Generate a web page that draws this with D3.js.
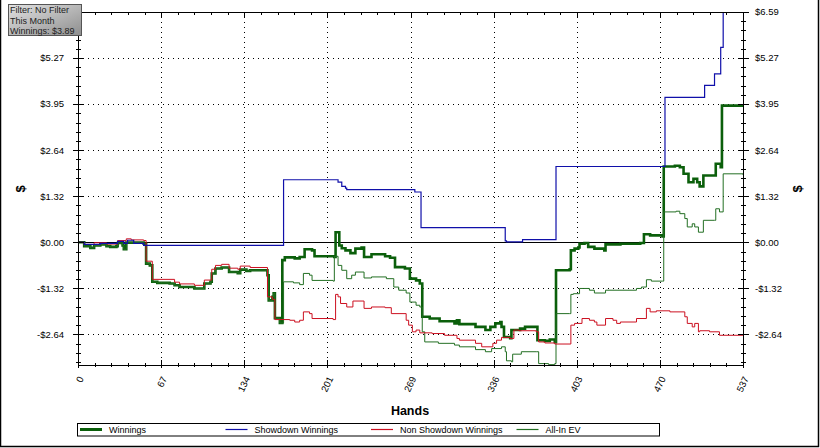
<!DOCTYPE html>
<html><head><meta charset="utf-8">
<script src="https://cdnjs.cloudflare.com/ajax/libs/d3/7.8.5/d3.min.js"></script>
<style>
html,body{margin:0;padding:0;background:#fff;}
svg{display:block;font-family:"Liberation Sans",Arial,sans-serif;}
</style></head><body>
<svg id="chart" width="820" height="448"></svg>
<script>
// ---------- data ----------
const totalHands = 537;
const xTickLabels = ["0","67","134","201","269","336","403","470","537"];
const yTickValues = [-2.636,-1.318,0,1.318,2.636,3.954,5.272,6.59];
const yTickLabels = ["-$2.64","-$1.32","$0.00","$1.32","$2.64","$3.95","$5.27","$6.59"];
const titleLines = ["Filter: No Filter","This Month","Winnings: $3.89"];
const seriesNames = ["Winnings","Showdown Winnings","Non Showdown Winnings","All-In EV"];

const winningsEarly = [[0,0],[5,-0.11],[10,-0.16],[13,-0.09],[18,-0.06],[23,-0.11],[26,-0.13],[31,-0.11],[32,-0.02],[36,-0.09],[37,-0.20],[39,-0.01],[53,-0.04],[55,-0.61],[58,-0.66],[60,-1.13],[64,-1.16],[74,-1.18],[78,-1.23],[82,-1.28],[94,-1.32],[102,-1.18],[107,-1.13],[108,-0.89],[111,-0.75],[116,-0.72],[122,-0.85],[129,-0.88],[131,-0.78],[136,-0.82],[139,-0.80],[153,-0.94],[154,-1.66],[157,-1.56],[158,-1.46],[159,-2.17],[163,-2.31]];

const winningsLate = [[165,-0.51],[167,-0.43],[175,-0.46],[179,-0.42],[183,-0.20],[189,-0.23],[191,-0.40],[207,-0.42],[208,0.29],[210,0.29],[211,-0.09],[213,-0.17],[216,-0.23],[220,-0.31],[224,-0.18],[229,-0.15],[231,-0.42],[237,-0.34],[248,-0.40],[252,-0.44],[256,-0.71],[264,-0.75],[268,-1.04],[273,-1.09],[276,-1.18],[278,-2.13],[284,-2.18],[292,-2.26],[304,-2.32],[306,-2.23],[308,-2.34],[321,-2.42],[329,-2.51],[333,-2.42],[337,-2.32],[341,-2.28],[342,-2.42],[344,-2.71],[349,-2.74],[350,-2.51],[357,-2.47],[361,-2.42],[369,-2.42],[371,-2.80],[377,-2.82],[381,-2.78],[385,-2.85],[386,-0.80],[397,-0.77],[398,-0.23],[401,-0.18],[404,-0.15],[405,-0.04],[409,-0.02],[412,-0.13],[417,-0.18],[425,-0.23],[426,-0.06],[438,-0.04],[454,-0.02],[457,0.23],[462,0.20],[472,0.17],[473,2.17],[482,2.19],[486,2.15],[489,1.96],[493,1.72],[497,1.82],[500,1.72],[502,1.60],[505,1.91],[514,1.91],[515,2.25],[519,2.15],[520,3.91],[535,3.91],[537,3.89]];

const showdown = [[0,0],[5,-0.06],[18,-0.03],[32,0.03],[37,-0.03],[40,0.06],[45,-0.03],[53,-0.09],[164,-0.09],[166,1.79],[209,1.79],[210,1.72],[213,1.60],[216,1.55],[217,1.51],[271,1.51],[272,1.44],[277,0.42],[344,0.42],[345,0.04],[346,0.01],[359,0.08],[386,2.17],[473,2.17],[474,4.15],[505,4.15],[506,4.49],[514,4.82],[519,5.58],[521,6.70],[537,6.70]];

const nonShowdown = [[0,0],[5,-0.06],[13,-0.01],[23,-0.05],[32,0.05],[39,0.10],[43,0.07],[53,0.05],[55,-0.54],[60,-1.06],[78,-1.14],[82,-1.19],[94,-1.23],[102,-1.08],[108,-0.77],[111,-0.66],[116,-0.63],[122,-0.74],[129,-0.77],[131,-0.68],[139,-0.72],[153,-1.56],[157,-1.63],[159,-2.21],[171,-2.23],[175,-2.28],[179,-2.23],[182,-1.99],[187,-2.04],[189,-2.18],[206,-2.21],[208,-1.49],[210,-1.56],[212,-1.75],[217,-1.85],[222,-1.68],[231,-1.89],[237,-1.85],[248,-1.87],[253,-2.04],[265,-2.23],[267,-2.37],[270,-2.56],[273,-2.51],[276,-2.59],[286,-2.61],[296,-2.66],[306,-2.75],[308,-2.80],[321,-2.89],[326,-2.99],[335,-2.89],[338,-2.80],[342,-2.72],[349,-2.75],[352,-2.51],[356,-2.53],[370,-2.56],[372,-2.85],[377,-2.88],[385,-2.91],[398,-2.37],[401,-2.32],[407,-2.18],[413,-2.23],[417,-2.28],[419,-2.37],[426,-2.18],[432,-2.23],[435,-2.32],[438,-2.28],[451,-2.18],[459,-1.89],[462,-1.99],[467,-1.96],[478,-1.99],[490,-2.13],[492,-2.32],[496,-2.42],[498,-2.32],[501,-2.56],[502,-2.53],[510,-2.56],[518,-2.66],[537,-2.66]];

const allInLate = [[166,-1.13],[174,-1.16],[179,-1.21],[182,-0.89],[187,-0.94],[189,-1.09],[206,-1.11],[207,-0.40],[210,-0.66],[213,-0.80],[217,-1.04],[221,-0.94],[224,-0.85],[231,-1.02],[237,-0.99],[249,-1.04],[255,-1.28],[259,-1.37],[265,-1.45],[268,-1.71],[273,-1.80],[276,-1.85],[278,-2.56],[280,-2.85],[291,-2.89],[304,-2.94],[308,-2.99],[321,-3.07],[329,-3.13],[334,-3.04],[342,-2.99],[345,-3.13],[346,-3.39],[350,-3.42],[351,-3.20],[358,-3.13],[370,-3.13],[372,-3.47],[380,-3.50],[385,-3.47],[386,-2.04],[397,-2.04],[398,-1.49],[400,-1.47],[405,-1.32],[413,-1.37],[417,-1.45],[426,-1.37],[451,-1.32],[455,-1.28],[459,-1.07],[463,-1.11],[472,-1.11],[473,0.87],[483,0.89],[486,0.82],[490,0.68],[492,0.44],[496,0.53],[498,0.44],[501,0.29],[505,0.63],[514,0.63],[515,0.96],[518,0.87],[521,1.96],[537,1.93]];

const winnings = winningsEarly.concat(winningsLate);
const allInEV = winningsEarly.concat(allInLate);

// ---------- layout ----------
const svg = d3.select("#chart");
const L = 78, R = 743, T = 12, B = 365;
const x = d3.scaleLinear().domain([0, totalHands]).range([L, R]);
const y = d3.scaleLinear().domain([-3.51, 6.59]).range([B, T]);

// outer frame
svg.append("rect").attr("x",0.5).attr("y",-2).attr("width",818).attr("height",448.5)
  .attr("fill","none").attr("stroke","#000").attr("stroke-width",1.5);

const xMajor = d3.range(9).map(i => i*totalHands/8);
const xMinor = d3.range(41).map(i => i*totalHands/40).filter((d,i)=> i%5!==0);
const yStep = 1.318;
const yMinor = d3.range(-13, 26).map(i => i*yStep/5).filter(v => v>=-3.51 && v<=6.6 && Math.abs(Math.round(v/yStep)*yStep - v) > 0.01);

// grid
const grid = svg.append("g");
grid.selectAll(".vg").data(xMajor.slice(1,-1)).join("line")
  .attr("x1",d=>Math.round(x(d))+0.5).attr("x2",d=>Math.round(x(d))+0.5)
  .attr("y1",T).attr("y2",B)
  .attr("stroke","#000").attr("stroke-width",1).attr("stroke-dasharray","1,4");
grid.selectAll(".hg").data(yTickValues.filter(v=>v!==0 && v<6.5)).join("line")
  .attr("x1",L).attr("x2",R)
  .attr("y1",d=>Math.round(y(d))+0.5).attr("y2",d=>Math.round(y(d))+0.5)
  .attr("stroke","#000").attr("stroke-width",1).attr("stroke-dasharray","1,4");

// zero line
svg.append("line").attr("x1",L).attr("x2",R)
  .attr("y1",Math.round(y(0))+0.5).attr("y2",Math.round(y(0))+0.5)
  .attr("stroke","#000").attr("stroke-width",1);

// series
svg.append("clipPath").attr("id","clip").append("rect")
  .attr("x",L).attr("y",T).attr("width",R-L).attr("height",B-T);
const line = d3.line().x(d=>x(d[0])).y(d=>y(d[1])).curve(d3.curveStepAfter);
const plot = svg.append("g").attr("clip-path","url(#clip)");
const seriesData = [
  {name:seriesNames[0], data:winnings, color:"#0b5f0b", w:2.6},
  {name:seriesNames[1], data:showdown, color:"#1010aa", w:1.2},
  {name:seriesNames[2], data:nonShowdown, color:"#cc1020", w:1},
  {name:seriesNames[3], data:allInEV, color:"#236f23", w:1}
];
const drawOrder = [seriesData[0], seriesData[3], seriesData[2], seriesData[1]];
plot.selectAll("path").data(drawOrder).join("path")
  .attr("d",d=>line(d.data)).attr("fill","none")
  .attr("stroke",d=>d.color).attr("stroke-width",d=>d.w)
  .attr("stroke-linejoin","miter");

// axes frame lines
const ax = svg.append("g").attr("stroke","#000").attr("stroke-width",1);
ax.append("line").attr("x1",L+0.5).attr("x2",L+0.5).attr("y1",T).attr("y2",B+1);
ax.append("line").attr("x1",R+0.5).attr("x2",R+0.5).attr("y1",T).attr("y2",B+1);
ax.append("line").attr("x1",L).attr("x2",R+1).attr("y1",B+0.5).attr("y2",B+0.5);
ax.append("line").attr("x1",L).attr("x2",R+1).attr("y1",T+0.5).attr("y2",T+0.5);

// y ticks (left & right)
[L, R].forEach(px => {
  ax.selectAll(null).data(yTickValues).join("line")
    .attr("x1",px-5).attr("x2",px+6)
    .attr("y1",d=>Math.round(y(d))+0.5).attr("y2",d=>Math.round(y(d))+0.5);
  ax.selectAll(null).data(yMinor).join("line")
    .attr("x1",px-2).attr("x2",px+3)
    .attr("y1",d=>Math.round(y(d))+0.5).attr("y2",d=>Math.round(y(d))+0.5);
});
// x ticks bottom & top
ax.selectAll(null).data(xMajor).join("line")
  .attr("x1",d=>Math.round(x(d))+0.5).attr("x2",d=>Math.round(x(d))+0.5)
  .attr("y1",B-5).attr("y2",B+3);
ax.selectAll(null).data(xMinor).join("line")
  .attr("x1",d=>Math.round(x(d))+0.5).attr("x2",d=>Math.round(x(d))+0.5)
  .attr("y1",B-2).attr("y2",B+2);
ax.selectAll(null).data(xMajor).join("line")
  .attr("x1",d=>Math.round(x(d))+0.5).attr("x2",d=>Math.round(x(d))+0.5)
  .attr("y1",T).attr("y2",T+5);
ax.selectAll(null).data(xMinor).join("line")
  .attr("x1",d=>Math.round(x(d))+0.5).attr("x2",d=>Math.round(x(d))+0.5)
  .attr("y1",T).attr("y2",T+3);

// tick labels (left top label is hidden under the filter box in the reference)
const lab = svg.append("g").attr("font-size","9.5px").attr("fill","#000");
const leftIdx = yTickValues.map((v,i)=>i).filter(i => yTickValues[i] < 6.5);
lab.selectAll(null).data(leftIdx).join("text")
  .attr("x",64).attr("y",i=>y(yTickValues[i])).attr("dy","0.35em").attr("text-anchor","end")
  .text(i=>yTickLabels[i]);
lab.selectAll(null).data(yTickValues).join("text")
  .attr("x",755).attr("y",d=>y(d)).attr("dy","0.35em").attr("text-anchor","start")
  .text((d,i)=>yTickLabels[i]);
lab.selectAll(null).data(xMajor).join("text")
  .attr("transform",d=>`translate(${x(d)+3},${377}) rotate(-65)`)
  .attr("dy","0.35em").attr("text-anchor","end")
  .text((d,i)=>xTickLabels[i]);

// axis titles
svg.append("text").attr("x",410).attr("y",415).attr("text-anchor","middle")
  .attr("font-size","12.5px").attr("font-weight","bold").text("Hands");
svg.append("text").attr("transform","translate(20,189) rotate(-90)")
  .attr("text-anchor","middle").attr("dy","0.35em")
  .attr("font-size","13px").attr("font-weight","bold").text("$");
svg.append("text").attr("transform","translate(797,189) rotate(-90)")
  .attr("text-anchor","middle").attr("dy","0.35em")
  .attr("font-size","13px").attr("font-weight","bold").text("$");

// legend
const lg = svg.append("g");
lg.append("rect").attr("x",77.5).attr("y",423.5).attr("width",582).attr("height",12.5)
  .attr("fill","#fff").attr("stroke","#000").attr("stroke-width",1);
seriesData.forEach((s,i) => {
  const x0 = 80 + i*145.5;
  lg.append("line").attr("x1",x0).attr("x2",x0+22).attr("y1",429.5).attr("y2",429.5)
    .attr("stroke",s.color).attr("stroke-width",s.w>2?3:1.2);
  lg.append("text").attr("x",x0+29).attr("y",429.5).attr("dy","0.35em")
    .attr("font-size","9px").text(s.name);
});

// title box
const defs = svg.append("defs");
const gr = defs.append("linearGradient").attr("id","tbg").attr("x1","0").attr("y1","0").attr("x2","1").attr("y2","1");
gr.append("stop").attr("offset","0%").attr("stop-color","#e2e2e2");
gr.append("stop").attr("offset","100%").attr("stop-color","#8e8e8e");
svg.append("rect").attr("x",8.5).attr("y",4.5).attr("width",73).attr("height",31)
  .attr("fill","url(#tbg)").attr("stroke","#555").attr("stroke-width",1);
svg.append("g").selectAll("text").data(titleLines).join("text")
  .attr("x",10).attr("y",(d,i)=>10+i*10.5).attr("dy","0.35em")
  .attr("font-size","9px").attr("fill","#222").text(d=>d);
</script>
</body></html>
